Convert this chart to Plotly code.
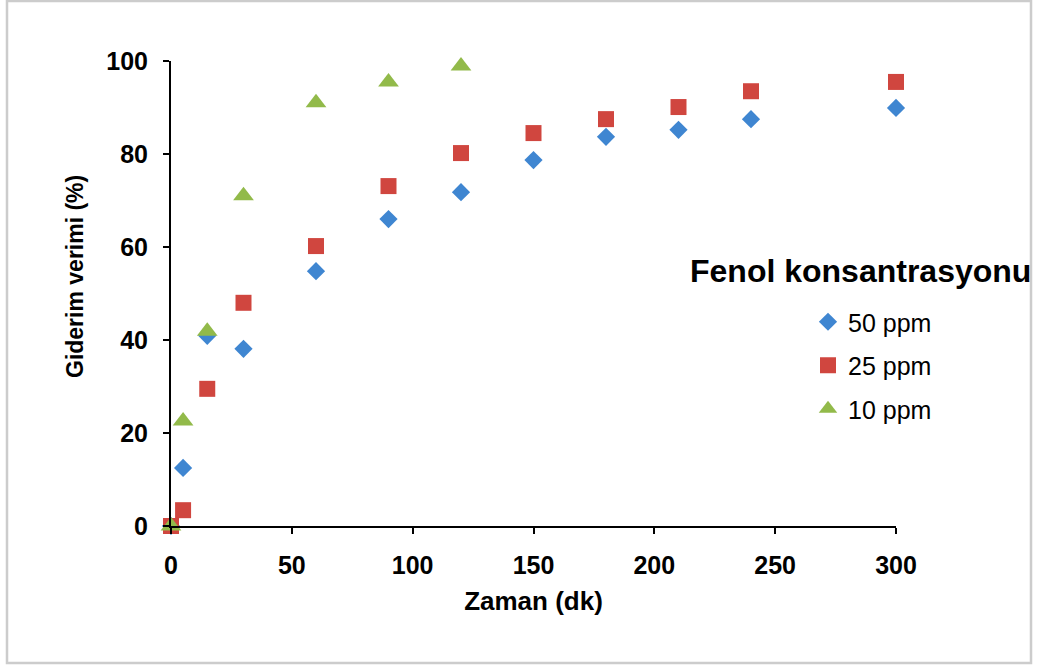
import plotly.graph_objects as go

# Sampling times (minutes)
time_50 = [0, 5, 15, 30, 60, 90, 120, 150, 180, 210, 240, 300]
time_25 = [0, 5, 15, 30, 60, 90, 120, 150, 180, 210, 240, 300]
time_10 = [0, 5, 15, 30, 60, 90, 120]

# Removal efficiency (%) per phenol concentration
eff_50 = [0, 12.5, 40.9, 38.1, 54.8, 66.0, 71.8, 78.7, 83.7, 85.2, 87.5, 89.9]
eff_25 = [0, 3.4, 29.5, 48.0, 60.2, 73.1, 80.2, 84.5, 87.5, 90.1, 93.5, 95.5]
eff_10 = [0, 22.6, 41.9, 71.0, 91.0, 95.5, 98.9]

series_names = ["50 ppm", "25 ppm", "10 ppm"]
x_ticks = [0, 50, 100, 150, 200, 250, 300]
y_ticks = [0, 20, 40, 60, 80, 100]

W, H = 1037, 667
L, R, T, B = 171, 141, 61, 141
PW, PH = W - L - R, H - T - B
FONT = "Liberation Sans, Arial, Helvetica, sans-serif"


def px_x(p):
    return (p - L) / PW


def px_y(p):
    return (H - B - p) / PH


fig = go.Figure()
styles = [
    dict(symbol="diamond", size=14, color="#3F86D1"),
    dict(symbol="square", size=16, color="#D0463F"),
    dict(symbol="triangle-up", size=18, color="#92BA4A"),
]
for name, xs, ys, st in zip(series_names, [time_50, time_25, time_10],
                            [eff_50, eff_25, eff_10], styles):
    fig.add_trace(go.Scatter(
        x=xs, y=ys, mode="markers", name=name, legendgroup=name,
        cliponaxis=False,
        marker=dict(symbol=st["symbol"], size=st["size"], color=st["color"],
                    line=dict(width=0)),
    ))

axis_common = dict(
    showline=True, linecolor="black", linewidth=2,
    ticks="outside", ticklen=6, tickwidth=2, tickcolor="black",
    showgrid=False, zeroline=False,
    tickfont=dict(family=FONT, size=25, color="black", weight="bold"),
)

fig.update_xaxes(range=[0, 300], tickvals=x_ticks, ticklabelstandoff=10,
                 **axis_common,
                 title=dict(text="Zaman (dk)", standoff=14,
                            font=dict(family=FONT, size=26, color="black",
                                      weight="bold")))
fig.update_yaxes(range=[0, 100], tickvals=y_ticks, ticklabelstandoff=10,
                 **axis_common)

# Chart frame
fig.add_shape(type="rect", xref="paper", yref="paper",
              x0=px_x(7), x1=px_x(1031), y0=px_y(663), y1=px_y(1),
              line=dict(color="#CCCCCC", width=2.5), fillcolor="rgba(0,0,0,0)",
              layer="below")

fig.add_annotation(text="Giderim verimi (%)", textangle=-90,
                   xref="paper", yref="paper", x=px_x(75), y=px_y(277),
                   xanchor="center", yanchor="middle", showarrow=False,
                   font=dict(family=FONT, size=23, color="black", weight="bold"))

fig.add_annotation(text="Fenol konsantrasyonu",
                   xref="paper", yref="paper", x=px_x(688), y=px_y(271),
                   xanchor="left", yanchor="middle", showarrow=False,
                   font=dict(family=FONT, size=32, color="black", weight="bold"))

fig.update_layout(
    width=W, height=H,
    margin=dict(l=L, r=R, t=T, b=B),
    paper_bgcolor="white", plot_bgcolor="white",
    showlegend=True,
    legend=dict(x=px_x(808), y=px_y(299), xanchor="left", yanchor="top",
                font=dict(family=FONT, size=25, color="black"),
                tracegroupgap=8, bgcolor="rgba(0,0,0,0)"),
)

fig.write_html("out.html")
